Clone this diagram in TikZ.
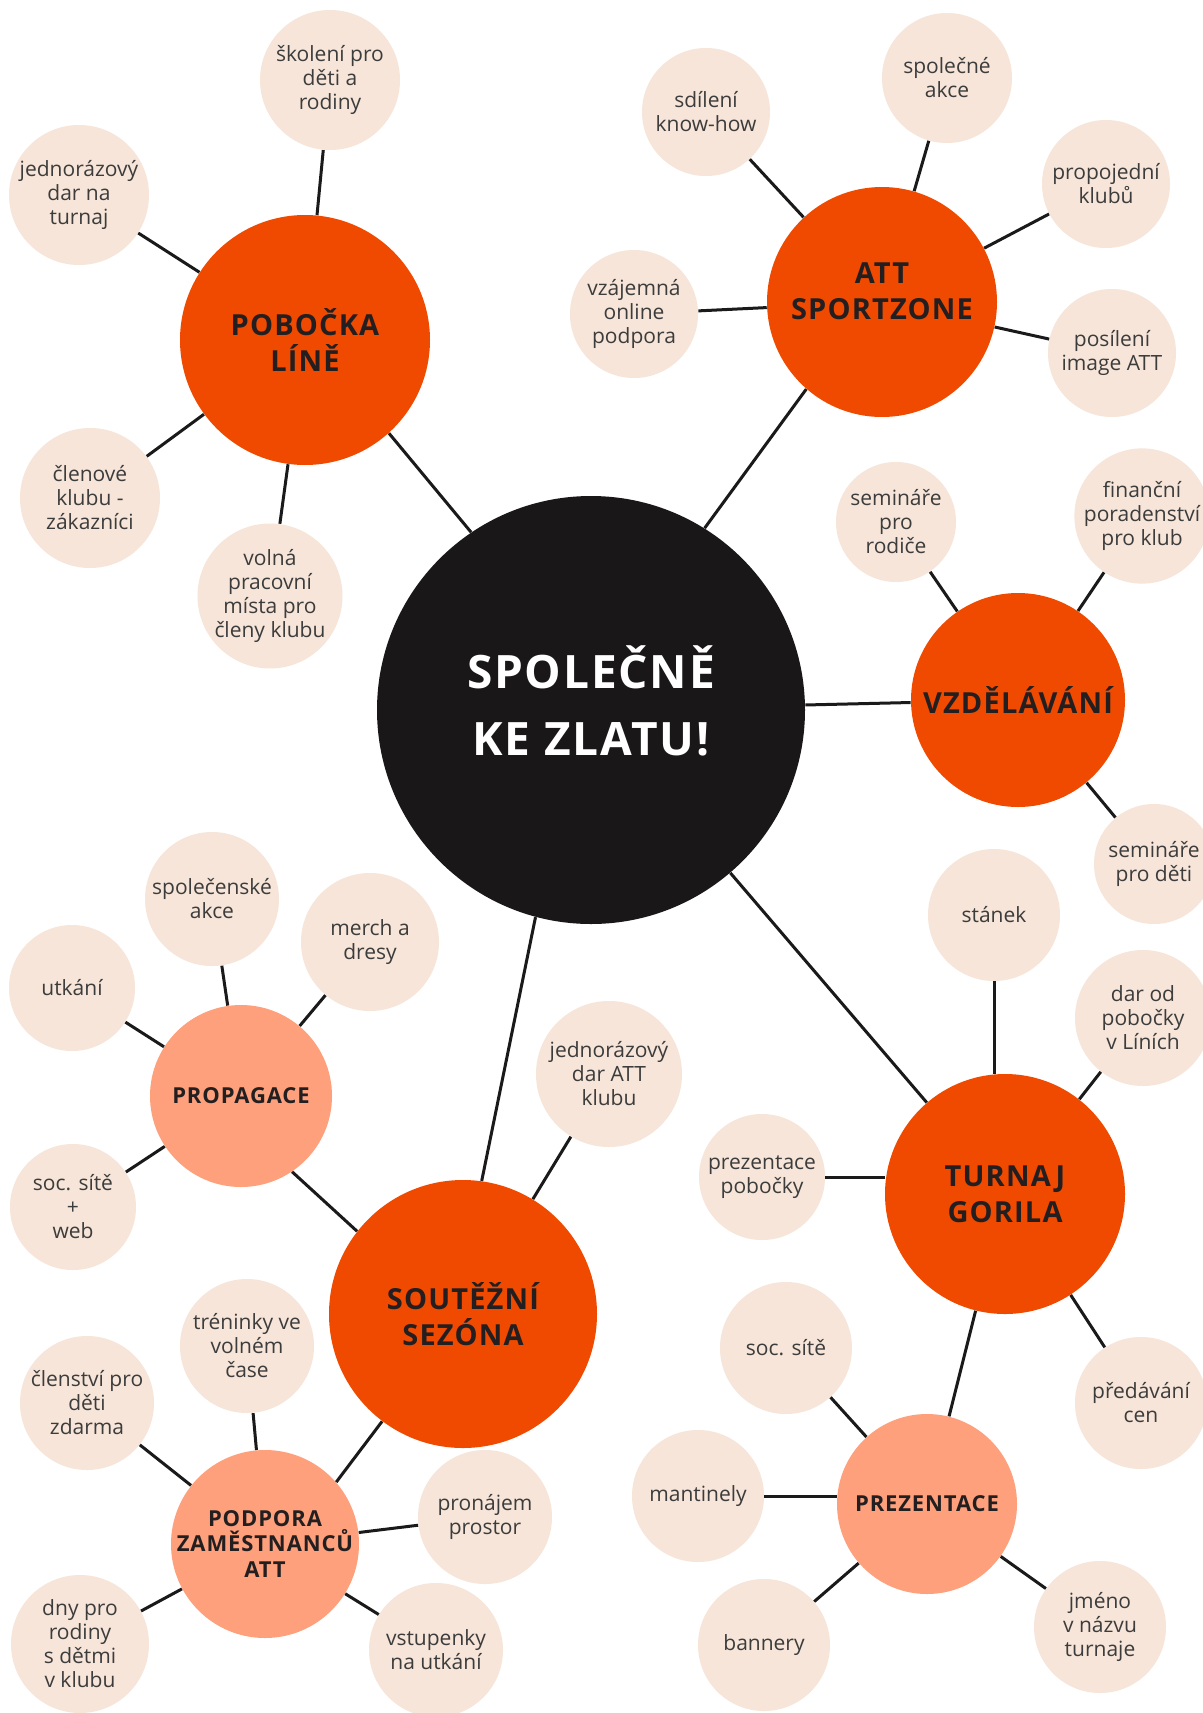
\documentclass[tikz,border=0pt]{standalone}
\usepackage{fontspec}
\setmainfont{Open Sans}
\newfontfamily\hubfont{Open Sans}[LetterSpace=4]

\definecolor{mainc}{HTML}{1A1718}
\definecolor{hubc}{HTML}{F04A00}
\definecolor{subc}{HTML}{FDA07B}
\definecolor{leafc}{HTML}{F6E5D8}
\definecolor{linec}{HTML}{1A1A1A}
\definecolor{leaftext}{HTML}{3C3C3C}
\definecolor{hubtext}{HTML}{231F20}

\begin{document}
\begin{tikzpicture}[x=0.5pt,y=-0.5pt,
		link/.style={line width=1.5pt,color=linec},
		leaf/.style={circle,fill=leafc,inner sep=0pt,minimum size=#1pt,text=leaftext,align=center,font=\fontsize{10.5}{12}\selectfont},
		leaf/.default=66,
		hub/.style={circle,fill=hubc,inner sep=0pt,minimum size=#1pt,text=hubtext,align=center,font=\hubfont\bfseries\fontsize{14.5}{18}\selectfont},
		hubtxt/.style={inner sep=0pt,text=hubtext,align=center,font=\hubfont\bfseries\fontsize{14.5}{18}\selectfont},
		subhub/.style={circle,fill=subc,inner sep=0pt,minimum size=#1pt,text=hubtext,align=center,font=\hubfont\bfseries\fontsize{11}{12.75}\selectfont}]
	\useasboundingbox[fill=white] (0,0) rectangle (1203,1713);

	\node[circle,fill=mainc,inner sep=0pt,minimum size=214pt] (main) at (591,710) {};
	\node[inner sep=0pt,text=white,align=center,font=\hubfont\bfseries\fontsize{23}{33.5}\selectfont] (maintxt) at (591,701) {SPOLEČNĚ\\KE ZLATU!};

	\node[hub=125] (pobocka) at (305,340) {POBOČKA\\LÍNĚ};
	\node[hub=115] (att) at (882,302) {};
	\node[hubtxt] (atttxt) at (882,291) {ATT\\SPORTZONE};
	\node[hub=107] (vzdel) at (1018,700) {VZDĚLÁVÁNÍ};
	\node[hub=120] (turnaj) at (1005,1194) {TURNAJ\\GORILA};
	\node[hub=134] (soutez) at (463,1314) {SOUTĚŽNÍ\\SEZÓNA};

	\node[subhub=91] (propagace) at (241,1096) {PROPAGACE};
	\node[subhub=94] (podpora) at (265,1544) {PODPORA\\ZAMĚSTNANCŮ\\ATT};
	\node[subhub=90] (prezentace) at (927,1504) {PREZENTACE};

	% pobocka
	\node[leaf=70] (skoleni) at (330,80) {školení pro\\děti a\\rodiny};
	\node[leaf=70] (dar1) at (79,195) {jednorázový\\dar na\\turnaj};
	\node[leaf=70] (clenove) at (90,498) {členové\\klubu -\\zákazníci};
	\node[leaf=70] (volna) at (270,596) {volná\\pracovní\\místa pro\\členy klubu};

	% att
	\node[leaf=64] (sdileni) at (706,112) {sdílení\\know-how};
	\node[leaf=65] (akce) at (947,78) {společné\\akce};
	\node[leaf=64] (propojeni) at (1106,184) {propojední\\klubů};
	\node[leaf=64] (vzajemna) at (634,314) {vzájemná\\online\\podpora};
	\node[leaf=64] (posileni) at (1112,353) {posílení\\image ATT};

	% vzdelavani
	\node[leaf=60] (semrodice) at (896,522) {semináře\\pro\\rodiče};
	\node[leaf=66] (financni) at (1142,516) {finanční\\poradenství\\pro klub};
	\node[leaf=60] (semdeti) at (1154,864) {semináře\\pro děti};

	% turnaj
	\node[leaf=66] (stanek) at (994,915) {stánek};
	\node[leaf=68] (darod) at (1143,1018) {dar od\\pobočky\\v Líních};
	\node[leaf=63] (prezpob) at (762,1177) {prezentace\\pobočky};
	\node[leaf=66] (predavani) at (1141,1403) {předávání\\cen};

	% prezentace
	\node[leaf=66] (socsite) at (786,1348) {soc. sítě};
	\node[leaf=66] (mantinely) at (698,1496) {mantinely};
	\node[leaf=66] (bannery) at (764,1645) {bannery};
	\node[leaf=66] (jmeno) at (1100,1627) {jméno\\v názvu\\turnaje};

	% soutez
	\node[leaf=73] (dar2) at (609,1074) {jednorázový\\dar ATT\\klubu};

	% propagace
	\node[leaf=67] (spolecenske) at (212,899) {společenské\\akce};
	\node[leaf=63] (utkani) at (72,988) {utkání};
	\node[leaf=69] (merch) at (370,942) {merch a\\dresy};
	\node[leaf=63] (socweb) at (73,1207) {soc. sítě\\+\\web};

	% podpora
	\node[leaf=67] (treninky) at (247,1346) {tréninky ve\\volném\\čase};
	\node[leaf=67] (clenstvi) at (87,1403) {členství pro\\děti\\zdarma};
	\node[leaf=67] (pronajem) at (485,1517) {pronájem\\prostor};
	\node[leaf=69] (dny) at (80,1644) {dny pro\\rodiny\\s dětmi\\v klubu};
	\node[leaf=67] (vstupenky) at (436,1650) {vstupenky\\na utkání};

	\draw[link] (main.124.7) -- (pobocka.312.7);
	\draw[link] (main.58.5) -- (att.229.5);
	\draw[link] (main) -- (vzdel);
	\draw[link] (main) -- (turnaj);
	\draw[link] (main.255) -- (soutez.82);

	\draw[link] (pobocka) -- (skoleni);
	\draw[link] (pobocka) -- (dar1);
	\draw[link] (pobocka) -- (clenove);
	\draw[link] (pobocka) -- (volna);

	\draw[link] (att) -- (sdileni);
	\draw[link] (att) -- (akce);
	\draw[link] (att) -- (propojeni);
	\draw[link] (att) -- (vzajemna);
	\draw[link] (att) -- (posileni);

	\draw[link] (vzdel) -- (semrodice);
	\draw[link] (vzdel) -- (financni);
	\draw[link] (vzdel) -- (semdeti);

	\draw[link] (stanek) -- (turnaj.north -| stanek);
	\draw[link] (turnaj) -- (darod);
	\draw[link] (prezpob) -- (turnaj.west |- prezpob);
	\draw[link] (turnaj) -- (predavani);
	\draw[link] (turnaj) -- (prezentace);

	\draw[link] (prezentace) -- (socsite);
	\draw[link] (mantinely) -- (prezentace.west |- mantinely);
	\draw[link] (prezentace) -- (bannery);
	\draw[link] (prezentace) -- (jmeno);

	\draw[link] (soutez) -- (dar2);
	\draw[link] (soutez.142.8) -- (propagace.304);
	\draw[link] (soutez.233.8) -- (podpora.41.6);

	\draw[link] (propagace) -- (spolecenske);
	\draw[link] (propagace) -- (utkani);
	\draw[link] (propagace) -- (merch);
	\draw[link] (propagace) -- (socweb);

	\draw[link] (podpora) -- (treninky);
	\draw[link] (podpora) -- (clenstvi);
	\draw[link] (podpora) -- (pronajem);
	\draw[link] (podpora) -- (dny);
	\draw[link] (podpora) -- (vstupenky);
\end{tikzpicture}
\end{document}
